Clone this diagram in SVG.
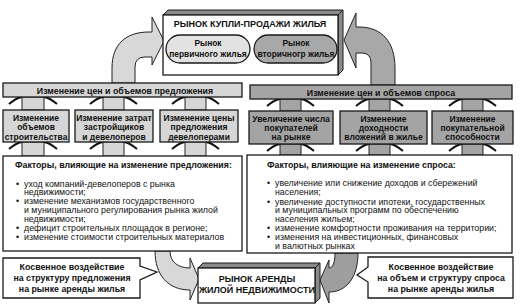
<svg xmlns="http://www.w3.org/2000/svg" width="523" height="305" viewBox="0 0 523 305">
<style>
text{font-family:"Liberation Sans",Arial,sans-serif;fill:#111}
.b{font-weight:bold}
.c{text-anchor:middle}
.bx{stroke:#1a1a1a;stroke-width:1.3}
.lt{fill:#d6d6d6}
.dk{fill:#a4a4a4}
.wh{fill:#fff}
.face{fill:#8a8a8a;stroke:#1a1a1a;stroke-width:1}
.arr{stroke:#222;stroke-width:1}
.wing{fill:none;stroke:#111;stroke-width:2}
.thin{fill:none;stroke:#111;stroke-width:1.1}
.t85{font-size:8.5px}
.t88{font-size:8.8px}
.t9{font-size:9px}
.pl{font-size:8.4px;font-weight:bold}
</style>
<defs>
<marker id="ah" viewBox="0 0 8 8" refX="7" refY="4" markerWidth="6" markerHeight="6" orient="auto"><path d="M0,0 L8,4 L0,8 z" fill="#111"/></marker>
</defs>

<g id="connectors">
  <path class="arr" fill="#d8d8d8" d="M112,83 L112,68 C112,44 126,32 149,32 L152,32 L152,17 L164,41 L152,65 L152,57 L145,57 Q135,57 135,67 L135,83 Z"/>
  <path class="arr" fill="#a8a8a8" d="M395,85 L395,68 C395,42 382,27 359,27 L356,27 L356,13 L344,40 L356,68 L356,53 L362,53 Q371,53 371,63 L371,85 Z"/>
  <path class="arr" fill="#d8d8d8" d="M155,251 C155,275 168,290 190,290 L190,300 L199,279 L190,258 L190,268 C178,268 170,262 170,251 Z"/>
  <path class="arr" fill="#9e9e9e" d="M358,253 C358,278 346,292 329,292 L329,303 L320,280 L329,260 L329,268 C333,268 335,262 335,253 Z"/>
  <g>
    <path class="arr lt" d="M22,97 L44,97 L44,110 L22,110 Z"/><path class="wing" d="M9,104 Q16,98 22,97 M57,104 Q50,98 44,97"/>
    <path class="arr lt" d="M103,97 L124,97 L124,110 L103,110 Z"/><path class="wing" d="M90,104 Q97,98 103,97 M137,104 Q130,98 124,97"/>
    <path class="arr lt" d="M185,97 L206,97 L206,110 L185,110 Z"/><path class="wing" d="M172,104 Q179,98 185,97 M219,104 Q212,98 206,97"/>
  </g>
  <g>
    <path class="arr lt" d="M22,142 L44,142 L44,156 L22,156 Z"/><path class="wing" d="M9,149 Q16,143 22,142 M57,149 Q50,143 44,142"/>
    <path class="arr lt" d="M103,142 L124,142 L124,156 L103,156 Z"/><path class="wing" d="M90,149 Q97,143 103,142 M137,149 Q130,143 124,142"/>
    <path class="arr lt" d="M185,142 L206,142 L206,156 L185,156 Z"/><path class="wing" d="M172,149 Q179,143 185,142 M219,149 Q212,143 206,142"/>
  </g>
  <g>
    <path class="arr dk" d="M280,99 L301,99 L301,111 L280,111 Z"/><path class="wing" d="M267,106 Q274,100 280,99 M314,106 Q307,100 301,99"/>
    <path class="arr dk" d="M369,99 L390,99 L390,111 L369,111 Z"/><path class="wing" d="M356,106 Q363,100 369,99 M403,106 Q396,100 390,99"/>
    <path class="arr dk" d="M462,99 L483,99 L483,111 L462,111 Z"/><path class="wing" d="M449,106 Q456,100 462,99 M496,106 Q489,100 483,99"/>
  </g>
  <g>
    <path class="arr dk" d="M280,144 L301,144 L301,155 L280,155 Z"/><path class="wing" d="M267,151 Q274,145 280,144 M314,151 Q307,145 301,144"/>
    <path class="arr dk" d="M369,144 L390,144 L390,155 L369,155 Z"/><path class="wing" d="M356,151 Q363,145 369,144 M403,151 Q396,145 390,144"/>
    <path class="arr dk" d="M462,144 L483,144 L483,155 L462,155 Z"/><path class="wing" d="M449,151 Q456,145 462,144 M496,151 Q489,145 483,144"/>
  </g>
  <path class="thin" marker-end="url(#ah)" d="M212,35 Q218,28 235,29 L280,30 Q290,31 294,35"/>
  <path class="thin" marker-end="url(#ah)" d="M256,58 Q250,66 235,66 L214,65"/>
</g>

<g id="market-sale">
  <polygon class="face" points="163,15 168,10 343,10 338,15"/>
  <polygon class="face" points="338,15 343,10 343,70 338,75"/>
  <rect class="bx wh" x="163" y="15" width="175" height="60"/>
  <text class="b c t9" x="250" y="27">РЫНОК КУПЛИ-ПРОДАЖИ ЖИЛЬЯ</text>
</g>
<g id="primary-market">
  <rect class="bx" fill="#e2e2e2" x="166" y="35" width="84" height="28" rx="14"/>
  <text class="c pl" x="208" y="46">Рынок</text>
  <text class="c pl" x="208" y="57">первичного жилья</text>
</g>
<g id="secondary-market">
  <rect class="bx" fill="#a8a8a8" x="254" y="35" width="83" height="28" rx="14"/>
  <text class="c pl" x="296" y="46">Рынок</text>
  <text class="c pl" x="296" y="57">вторичногр жилья</text>
</g>

<g id="supply-bar">
  <rect class="bx lt" x="3" y="83" width="239" height="14"/>
  <text class="b c t88" x="125" y="93.5">Изменение цен и объемов предложения</text>
</g>
<g id="demand-bar">
  <rect class="bx dk" x="250" y="85" width="262" height="14"/>
  <text class="b c t88" x="381" y="95.5">Изменение цен и объемов спроса</text>
</g>

<g id="supply-volume">
  <rect class="bx lt" x="3" y="110" width="66" height="32"/>
  <text class="b c t85" x="36" y="121">Изменение</text>
  <text class="b c t85" x="36" y="130">объемов</text>
  <text class="b c t85" x="36" y="139.5">строительства</text>
</g>
<g id="supply-costs">
  <rect class="bx lt" x="75" y="110" width="78" height="32"/>
  <text class="b c t85" x="114" y="121">Изменение затрат</text>
  <text class="b c t85" x="114" y="130">застройщиков</text>
  <text class="b c t85" x="114" y="139.5">и девелоперов</text>
</g>
<g id="supply-price">
  <rect class="bx lt" x="160" y="110" width="78" height="32"/>
  <text class="b c t85" x="199" y="121">Изменение цены</text>
  <text class="b c t85" x="199" y="130">предложения</text>
  <text class="b c t85" x="199" y="139.5">девелоперами</text>
</g>

<g id="demand-buyers">
  <rect class="bx dk" x="249" y="111" width="84" height="33"/>
  <text class="b c t85" x="291" y="121.5">Увеличение числа</text>
  <text class="b c t85" x="291" y="130.5">покупателей</text>
  <text class="b c t85" x="291" y="140">на рынке</text>
</g>
<g id="demand-yield">
  <rect class="bx dk" x="340" y="111" width="87" height="33"/>
  <text class="b c t85" x="383.5" y="121.5">Изменение</text>
  <text class="b c t85" x="383.5" y="130.5">доходности</text>
  <text class="b c t85" x="383.5" y="140">вложений в жилье</text>
</g>
<g id="demand-power">
  <rect class="bx dk" x="432" y="111" width="81" height="33"/>
  <text class="b c t85" x="472.5" y="121.5">Изменение</text>
  <text class="b c t85" x="472.5" y="130.5">покупательной</text>
  <text class="b c t85" x="472.5" y="140">способности</text>
</g>

<g id="supply-factors">
  <rect class="bx wh" x="3" y="156" width="239" height="95"/>
  <text class="b t88" x="15" y="168">Факторы, влияющие на изменение предложения:</text>
  <g class="t88">
    <text x="16" y="186.5">•</text><text x="24" y="186.5">уход компаний-девелоперов с рынка</text>
    <text x="24" y="195.4">недвижимости;</text>
    <text x="16" y="204.3">•</text><text x="24" y="204.3">изменение механизмов государственного</text>
    <text x="24" y="213.2">и муниципального регулирования рынка жилой</text>
    <text x="24" y="222.1">недвижимости;</text>
    <text x="16" y="231">•</text><text x="24" y="231">дефицит строительных площадок в регионе;</text>
    <text x="16" y="239.9">•</text><text x="24" y="239.9">изменение стоимости строительных материалов</text>
  </g>
</g>
<g id="demand-factors">
  <rect class="bx wh" x="247" y="155" width="265" height="98"/>
  <text class="b t88" x="267" y="168">Факторы, влияющие на изменение спроса:</text>
  <g class="t88">
    <text x="267" y="186.3">•</text><text x="275" y="186.3">увеличение или снижение доходов и сбережений</text>
    <text x="275" y="195">населения;</text>
    <text x="267" y="204.5">•</text><text x="275" y="204.5">увеличение доступности ипотеки, государственных</text>
    <text x="275" y="213">и муниципальных программ по обеспечению</text>
    <text x="275" y="221.5">населения жильем;</text>
    <text x="267" y="231">•</text><text x="275" y="231">изменение комфортности проживания на территории;</text>
    <text x="267" y="240">•</text><text x="275" y="240">изменения на инвестиционных, финансовых</text>
    <text x="275" y="248.5">и валютных рынках</text>
  </g>
</g>

<g id="indirect-supply">
  <path class="bx wh" d="M3,258 L140,258 L140,266 L157,272 L140,280 L140,298 L3,298 Z"/>
  <text class="b c t88" x="72" y="270">Косвенное воздействие</text>
  <text class="b c t88" x="72" y="281">на структуру предложения</text>
  <text class="b c t88" x="72" y="291.5">на рынке аренды жилья</text>
</g>
<g id="rental-market">
  <polygon class="face" points="198,268 203,263 320,263 315,268"/>
  <polygon class="face" points="315,268 320,263 320,298 315,303"/>
  <rect class="bx wh" x="198" y="268" width="117" height="35"/>
  <text class="b c t9" x="257" y="282">РЫНОК АРЕНДЫ</text>
  <text class="b c t9" x="257" y="293">ЖИЛОЙ НЕДВИЖИМОСТИ</text>
</g>
<g id="indirect-demand">
  <path class="bx wh" d="M368,257 L513,257 L513,298 L368,298 L368,282 L357,275 L368,267 Z"/>
  <text class="b c t88" x="441" y="270">Косвенное воздействие</text>
  <text class="b c t88" x="441" y="281">на объем и структуру спроса</text>
  <text class="b c t88" x="441" y="291.5">на рынке аренды жилья</text>
</g>
</svg>
